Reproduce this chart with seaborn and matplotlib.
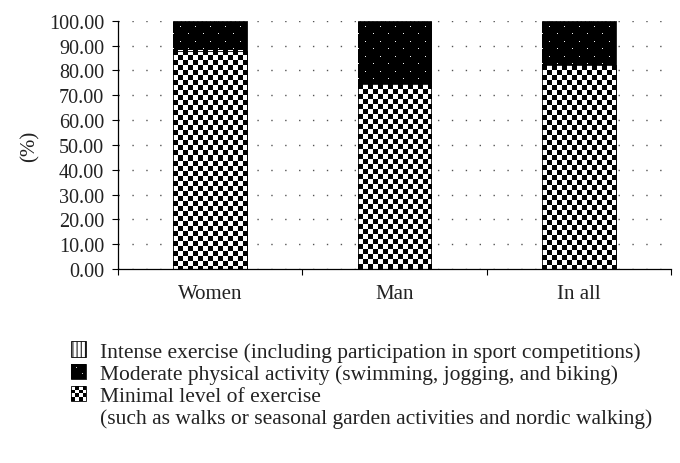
import numpy as np
import pandas as pd
import seaborn as sns
import matplotlib.pyplot as plt
from matplotlib.patches import Patch, Rectangle
from matplotlib.legend_handler import HandlerBase

groups = ['Women', 'Man', 'In all']
minimal = [88.0, 74.5, 82.0]
moderate = [11.2, 24.7, 17.2]
intense = [0.8, 0.8, 0.8]

legend_labels = ['Intense exercise (including participation in sport competitions)',
                 'Moderate physical activity (swimming, jogging, and biking)',
                 'Minimal level of exercise',
                 '(such as walks or seasonal garden activities and nordic walking)']

sns.set_theme(style='white')
plt.rcParams['font.family'] = ['Liberation Serif', 'DejaVu Serif']
plt.rcParams['hatch.linewidth'] = 0.7

df = pd.DataFrame({'group': groups, 'minimal': minimal,
                   'moderate': moderate, 'intense': intense})
df['top_moderate'] = df['minimal'] + df['moderate']
df['top_intense'] = df['top_moderate'] + df['intense']

fig = plt.figure(figsize=(6.8, 4.64), dpi=100)
ax = fig.add_axes([0.1735, 0.418, 0.8135, 0.535])

# stacked bars drawn from the top down
sns.barplot(data=df, x='group', y='top_intense', color='white', saturation=1,
            width=0.4, edgecolor='black', linewidth=0.6, hatch='||||', ax=ax, zorder=2)
sns.barplot(data=df, x='group', y='top_moderate', color='black', saturation=1,
            width=0.4, linewidth=0, ax=ax, zorder=3)
sns.barplot(data=df, x='group', y='minimal', color='white', saturation=1,
            width=0.4, edgecolor='black', linewidth=0.6, ax=ax, zorder=5)

ax.set_xlim(-0.5, 2.5)
ax.set_ylim(0, 100)


def texture(bar, kind, z):
    # pixel-sized pattern image laid over a bar
    bb = bar.get_window_extent()
    w, h = max(1, int(round(bb.width))), max(1, int(round(bb.height)))
    yy, xx = np.indices((h, w))
    if kind == 'checker':
        img = ((xx // 5 + yy // 5) % 2).astype(float)
    else:
        img = np.zeros((h, w))
        dots = (((xx % 15) == 7) & ((yy % 15) == 4)) | (((xx % 15) == 0) & ((yy % 15) == 11))
        img[dots] = 0.95
    x0, y0 = bar.get_x(), bar.get_y()
    ax.imshow(img, cmap='gray', vmin=0, vmax=1, origin='upper', interpolation='nearest',
              extent=[x0, x0 + bar.get_width(), y0, y0 + bar.get_height()],
              aspect='auto', zorder=z)


for bar in ax.containers[1]:
    texture(bar, 'dots', 3.5)
for bar in ax.containers[2]:
    texture(bar, 'checker', 4.5)
    bar.set_facecolor('none')

ax.set_xlim(-0.5, 2.5)
ax.set_ylim(0, 100)

ax.set_yticks(np.arange(0, 101, 10))
ax.set_yticklabels([f'{v:.2f}' for v in np.arange(0, 101, 10)])
ax.set_xticks([-0.5, 0.5, 1.5, 2.5], minor=True)
ax.tick_params(axis='x', which='major', length=0, pad=11, labelsize=15, colors='#222222')
ax.tick_params(axis='x', which='minor', length=4, width=0.8, direction='out', bottom=True)
ax.tick_params(axis='y', length=4, width=0.8, direction='out', pad=6, labelsize=14.5,
               colors='#222222', left=True)
ax.tick_params(axis='both', which='both', color='black')

ax.set_xlabel('')
ax.set_ylabel('(%)', fontsize=15, color='#222222', labelpad=7)

for side in ['top', 'right']:
    ax.spines[side].set_visible(False)
for side in ['left', 'bottom']:
    ax.spines[side].set_color('black')
    ax.spines[side].set_linewidth(0.9)
    ax.spines[side].set_zorder(6)

ax.yaxis.grid(True, color='#555555', linewidth=1.0, linestyle=(0, (1, 9)))
ax.set_axisbelow(True)


class CheckerKey:
    pass


class DotsKey:
    pass


class TextureHandler(HandlerBase):
    def __init__(self, kind):
        super().__init__()
        self.kind = kind

    def create_artists(self, legend, orig_handle, xdescent, ydescent,
                       width, height, fontsize, trans):
        x0, y0 = -xdescent, -ydescent
        if self.kind == 'checker':
            n = 4
            cw, ch = width / n, height / n
            artists = [Rectangle((x0, y0), width, height, facecolor='white',
                                 edgecolor='none', transform=trans)]
            for i in range(n):
                for j in range(n):
                    if (i + j) % 2 == 0:
                        artists.append(Rectangle((x0 + i * cw, y0 + j * ch), cw, ch,
                                                 facecolor='black', edgecolor='none',
                                                 transform=trans))
        else:
            artists = [Rectangle((x0, y0), width, height, facecolor='black',
                                 edgecolor='none', transform=trans)]
            for fx, fy in [(0.3, 0.7), (0.7, 0.3)]:
                artists.append(Rectangle((x0 + fx * width, y0 + fy * height), 0.7, 0.7,
                                         facecolor='#cccccc', edgecolor='none',
                                         transform=trans))
        artists.append(Rectangle((x0, y0), width, height, facecolor='none',
                                 edgecolor='black', linewidth=0.6, transform=trans))
        return artists


handles = [Patch(facecolor='white', edgecolor='black', hatch='||||', linewidth=0.6),
           DotsKey(),
           CheckerKey(),
           Patch(facecolor='none', edgecolor='none')]

fig.legend(handles, legend_labels,
           handler_map={CheckerKey: TextureHandler('checker'), DotsKey: TextureHandler('dots')},
           loc='upper left', bbox_to_anchor=(0.105, 0.262), frameon=False,
           fontsize=15.5, handlelength=0.7, handleheight=0.7, handletextpad=0.65,
           labelspacing=0.1, borderpad=0, borderaxespad=0, labelcolor='#222222')

fig.savefig('out.png', dpi=100)
